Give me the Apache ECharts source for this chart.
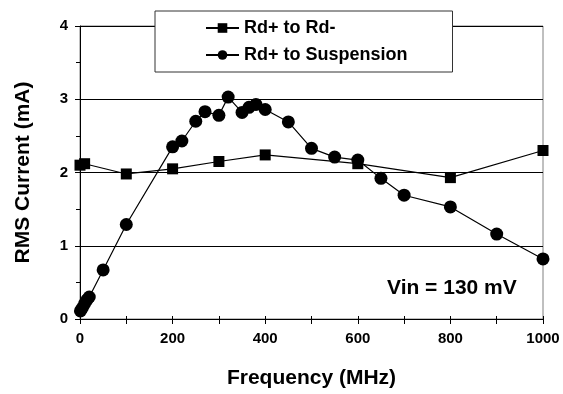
<!DOCTYPE html>
<html>
<head>
<meta charset="utf-8">
<script src="https://cdn.jsdelivr.net/npm/echarts@6/dist/echarts.min.js"></script>
<style>
html,body{margin:0;padding:0;background:#fff;}
#main{width:563px;height:394px;}
</style>
</head>
<body>
<div id="main"></div>
<script>
var seriesNames = ['Rd+ to Rd-', 'Rd+ to Suspension'];
var sqX = [0, 10, 100, 200, 300, 400, 600, 800, 1000];
var sqY = [2.10, 2.12, 1.98, 2.05, 2.15, 2.24, 2.12, 1.93, 2.30];
var ciX = [1, 5, 10, 15, 20, 50, 100, 200, 220, 250, 270, 300, 320, 350, 365, 380, 400, 450, 500, 550, 600, 650, 700, 800, 900, 1000];
var ciY = [0.11, 0.15, 0.21, 0.26, 0.30, 0.67, 1.29, 2.35, 2.43, 2.70, 2.83, 2.78, 3.03, 2.82, 2.89, 2.93, 2.86, 2.69, 2.33, 2.21, 2.17, 1.92, 1.69, 1.53, 1.16, 0.82];
var xTitle = 'Frequency (MHz)';
var yTitle = 'RMS Current (mA)';
var note = 'Vin = 130 mV';

function pairs(xs, ys) { return xs.map(function (x, i) { return [x, ys[i]]; }); }

var FONT = '"Liberation Sans", Arial, sans-serif';
var chart = echarts.init(document.getElementById('main'), null, {renderer: 'canvas'});
var baseX = {
  type: 'value', min: 0, max: 1000, interval: 100
};
var baseY = {
  type: 'value', min: 0, max: 4, interval: 1
};
chart.setOption({
  animation: false,
  backgroundColor: '#fff',
  grid: {left: 80, right: 20, top: 26, bottom: 68, show: true, borderColor: '#808080', borderWidth: 1, containLabel: false},
  xAxis: [
    Object.assign({}, baseX, {
      name: xTitle, nameLocation: 'middle', nameGap: 49,
      nameTextStyle: {fontFamily: FONT, fontWeight: 'bold', fontSize: 21, color: '#000'},
      axisLine: {lineStyle: {color: '#000', width: 1}},
      axisTick: {inside: false, length: 5, lineStyle: {color: '#000'}},
      axisLabel: {margin: 12, fontFamily: FONT, fontWeight: 'bold', fontSize: 15, color: '#000',
        formatter: function (v) { return v % 200 === 0 ? String(v) : ''; }},
      splitLine: {show: false}
    }),
    Object.assign({}, baseX, {
      position: 'bottom',
      axisLine: {show: false},
      axisTick: {inside: true, length: 3, lineStyle: {color: '#000'}},
      axisLabel: {show: false},
      splitLine: {show: false}
    })
  ],
  yAxis: [
    Object.assign({}, baseY, {
      name: yTitle, nameLocation: 'middle', nameGap: 46, nameRotate: 90,
      nameTextStyle: {fontFamily: FONT, fontWeight: 'bold', fontSize: 21, color: '#000'},
      axisLine: {show: true, lineStyle: {color: '#000', width: 1}},
      axisTick: {show: true, inside: false, length: 5, lineStyle: {color: '#000'}},
      minorTick: {show: true, splitNumber: 2, length: 4, lineStyle: {color: '#000'}},
      axisLabel: {margin: 12, fontFamily: FONT, fontWeight: 'bold', fontSize: 15, color: '#000'},
      splitLine: {show: true, lineStyle: {color: '#000', width: 1}}
    }),
    Object.assign({}, baseY, {
      position: 'left',
      axisLine: {show: false},
      axisTick: {show: false},
      minorTick: {show: true, splitNumber: 2, length: 3, lineStyle: {color: '#000'}},
      axisLabel: {show: false},
      splitLine: {show: false}
    })
  ],
  legend: {
    orient: 'vertical', left: 155, top: 11,
    padding: [7, 45, 7, 50], itemGap: 7,
    itemWidth: 33, itemHeight: 12,
    backgroundColor: '#fff', borderColor: '#333', borderWidth: 1,
    textStyle: {fontFamily: FONT, fontWeight: 'bold', fontSize: 18, color: '#000', lineHeight: 20},
    data: seriesNames
  },
  graphic: [{
    type: 'text', left: 387, top: 278,
    style: {text: note, fontFamily: FONT, fontWeight: 'bold', fontSize: 21, fill: '#000'}
  }],
  series: [
    {
      name: seriesNames[0], type: 'line', xAxisIndex: 0, yAxisIndex: 0,
      data: pairs(sqX, sqY),
      symbol: 'rect', symbolSize: 11,
      lineStyle: {color: '#000', width: 1.2},
      itemStyle: {color: '#000'}
    },
    {
      name: seriesNames[1], type: 'line', xAxisIndex: 0, yAxisIndex: 0,
      data: pairs(ciX, ciY),
      symbol: 'circle', symbolSize: 13,
      lineStyle: {color: '#000', width: 1.2},
      itemStyle: {color: '#000'}
    }
  ]
});
</script>
</body>
</html>
